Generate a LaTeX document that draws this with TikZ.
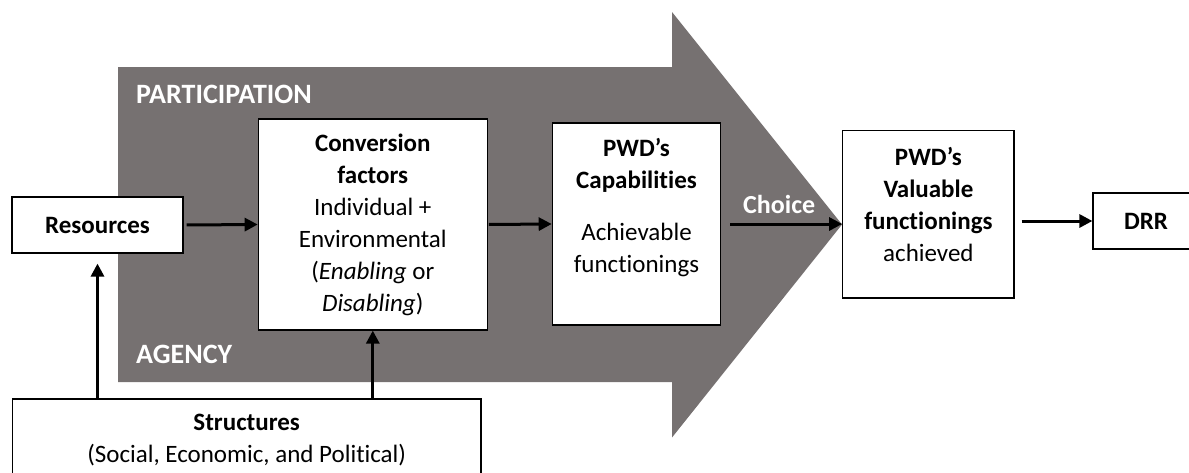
\documentclass[tikz,border=0pt]{standalone}
\usepackage{fontspec}
\setmainfont{Carlito}[Ligatures=NoCommon]
\usetikzlibrary{arrows.meta}
\definecolor{arrowgray}{HTML}{767171}
\begin{document}
\begin{tikzpicture}[x=1pt,y=-1pt,
  box/.style={draw=black, line width=1.2pt, fill=white, inner sep=0pt},
  txt/.style={align=center, font=\fontsize{25}{32}\selectfont, inner sep=0pt},
  wlabel/.style={text=white, font=\bfseries\fontsize{28}{32}\selectfont, anchor=base west, inner sep=0pt},
  conn/.style={line width=3pt, -{Triangle[length=13pt,width=13pt]}},
]
\useasboundingbox (0,0) rectangle (1189,472);
% big arrow
\fill[arrowgray] (118,67) -- (672,67) -- (672,12) -- (842,224.5) -- (672,437.5) -- (672,382) -- (118,382) -- cycle;
\node[wlabel] (part) at (136,103) {PARTICIPATION};
\node[wlabel] (agency) at (136,363) {AGENCY};
% boxes
\node[box, txt, minimum width=171, minimum height=56] (res) at (97.5,225) {\textbf{Resources}};
\node[box, txt, minimum width=229, minimum height=211] (conv) at (372.8,224.5)
  {\textbf{Conversion}\\\textbf{factors}\\Individual +\\Environmental\\(\textit{Enabling} or\\\textit{Disabling})};
\node[box, minimum width=168.4, minimum height=202] (caps) at (636.5,224) {};
\node[txt] (capstxt) at (636.5,207.5) {\textbf{PWD’s}\\\textbf{Capabilities}\\[20pt]Achievable\\functionings};
\node[box, minimum width=171.3, minimum height=167.3] (val) at (928.4,214.4) {};
\node[txt] (valtxt) at (928.4,204) {\textbf{PWD’s}\\\textbf{Valuable}\\\textbf{functionings}\\achieved};
\node[box, txt, minimum width=106, minimum height=56] (drr) at (1146,221) {\textbf{DRR}};
\node[box, minimum width=468.7, minimum height=101] (struct) at (246.7,449.5) {};
\node[txt] (structtxt) at (246.7,440) {\textbf{Structures}\\(Social, Economic, and Political)};
% connectors
\draw[conn, shorten <=3pt] (res.east) -- (conv.west);
\draw[conn, shorten <=1pt] (conv.east) -- (caps.west);
\draw[conn, shorten <=9pt] (caps.east) -- (caps.east -| val.west);
\node[wlabel, font=\bfseries\fontsize{26}{30}\selectfont] (choice) at (743,213) {Choice};
\draw[conn, shorten <=7pt] (val.east |- drr.west) -- (drr.west);
\draw[conn, shorten >=10pt] (res.south |- struct.north) -- (res.south);
\draw[conn] (conv.south |- struct.north) -- (conv.south);
\end{tikzpicture}
\end{document}
